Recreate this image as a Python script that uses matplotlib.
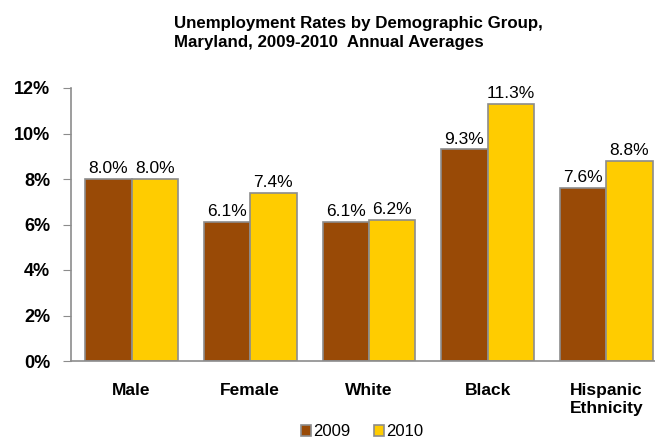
import matplotlib
matplotlib.use("Agg")
import matplotlib.pyplot as plt
import numpy as np

categories = ["Male", "Female", "White", "Black", "Hispanic\nEthnicity"]
rates_2009 = [8.0, 6.1, 6.1, 9.3, 7.6]
rates_2010 = [8.0, 7.4, 6.2, 11.3, 8.8]
series_names = ["2009", "2010"]
yticks = [0, 2, 4, 6, 8, 10, 12]

plt.rcParams['font.family'] = ['Liberation Sans', 'DejaVu Sans']

fig = plt.figure(figsize=(6.55, 4.42), dpi=100)
ax = fig.add_axes([71/655, (442-361)/442, 1 - 71/655, (361-88)/442])

x = np.arange(len(categories))
w = 0.39
c09 = "#994A06"
c10 = "#FFCC00"
edge = "#8C8C8C"
b1 = ax.bar(x - w/2, rates_2009, w, color=c09, edgecolor=edge, linewidth=1.2, label=series_names[0])
b2 = ax.bar(x + w/2, rates_2010, w, color=c10, edgecolor=edge, linewidth=1.2, label=series_names[1])

for bars, vals in ((b1, rates_2009), (b2, rates_2010)):
    for b, v in zip(bars, vals):
        ax.text(b.get_x() + b.get_width()/2, v + 0.12, f"{v:.1f}%", ha="center", va="bottom",
                fontsize=12.5, color="black")

ax.set_xlim(-0.51, 4.41)
ax.set_ylim(0, 12)
ax.set_yticks(yticks)
ax.set_yticklabels([f"{t}%" for t in yticks], fontsize=13, fontweight="bold")
ax.set_xticks(x)
ax.set_xticklabels(categories, fontsize=12.5, fontweight="bold", va="top", linespacing=1.25,
                   multialignment="left")
ax.tick_params(axis="x", length=0, pad=16)
ax.tick_params(axis="y", direction="out", length=6, color=edge, pad=9)
for s in ("top", "right"):
    ax.spines[s].set_visible(False)
for s in ("left", "bottom"):
    ax.spines[s].set_color(edge)
    ax.spines[s].set_linewidth(1.2)

fig.text(174/655, 1 - 33/442, "Unemployment Rates by Demographic Group,\nMaryland, 2009-2010  Annual Averages",
         ha="left", va="center", fontsize=12.2, fontweight="bold", linespacing=1.4, multialignment="left")

fig.legend(handles=[b1, b2], labels=series_names, loc="center", bbox_to_anchor=(362/655, 1 - 432/442),
           ncol=2, frameon=False, fontsize=12, handlelength=0.6, handleheight=0.6, handletextpad=0.15,
           columnspacing=1.4, borderpad=0)

fig.savefig("out.png", dpi=100)
